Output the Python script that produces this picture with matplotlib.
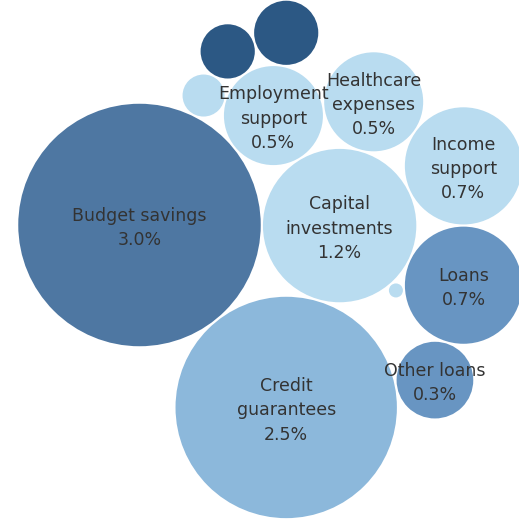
import numpy as np
import matplotlib
matplotlib.use("Agg")
import matplotlib.pyplot as plt
from matplotlib.patches import Circle

# Budget measures, share of GDP (%)
categories = [
    "Budget savings", "Credit guarantees", "Capital investments",
    "Employment support", "Healthcare expenses", "Income support",
    "Loans", "Other loans", "", "", "", "",
]
label_text = [
    "Budget savings", "Credit\nguarantees", "Capital\ninvestments",
    "Employment\nsupport", "Healthcare\nexpenses", "Income\nsupport",
    "Loans", "Other loans", "", "", "", "",
]
shares = [3.0, 2.5, 1.2, 0.5, 0.5, 0.7, 0.7, 0.3, 0.15, 0.21, 0.09, 0.01]
groups = ["budget", "credit", "light", "light", "light", "light",
          "loans", "loans", "dark", "dark", "light", "light"]

palette = {
    "budget": "#4e77a2",
    "credit": "#8cb8db",
    "light": "#b9dcf0",
    "loans": "#6895c2",
    "dark": "#2c5884",
}

# Packing: each bubble sits tangent to two already placed bubbles
# (anchor a, anchor b, side of the a->b line)
first_angle = np.deg2rad(51.2)
placement = [
    (0, 1, -1),   # Capital investments
    (0, 2, -1),   # Employment support
    (3, 2, -1),   # Healthcare expenses
    (4, 2, -1),   # Income support
    (2, 5, 1),    # Loans
    (6, 1, -1),   # Other loans
    (0, 3, -1),   # small light
    (10, 3, -1),  # small dark
    (8, 3, -1),   # larger dark
    (2, 6, 1),    # tiny
]
order = [2, 3, 4, 5, 6, 7, 10, 8, 9, 11]

SCALE = 70.0
GAP = 2.2
radii = SCALE * np.sqrt(np.array(shares))


def tangent(ca, ra, cb, rb, r, side, gap=GAP):
    da = ra + r + gap
    db = rb + r + gap
    d = cb - ca
    dist = np.hypot(*d)
    a = (da ** 2 - db ** 2 + dist ** 2) / (2 * dist)
    h = np.sqrt(max(da ** 2 - a ** 2, 0.0))
    u = d / dist
    perp = np.array([-u[1], u[0]])
    return ca + a * u + side * h * perp


n = len(shares)
centers = np.zeros((n, 2))
centers[1] = centers[0] + (radii[0] + radii[1] + GAP) * np.array(
    [np.cos(first_angle), np.sin(first_angle)])
for idx, (a, b, s) in zip(order, placement):
    centers[idx] = tangent(centers[a], radii[a], centers[b], radii[b],
                           radii[idx], s)

fig = plt.figure(figsize=(5.19, 5.20), dpi=100)
ax = fig.add_axes([0, 0, 1, 1])
ax.set_xlim(-139.5, 379.5)
ax.set_ylim(295, -225)
ax.axis("off")

for i in range(n):
    ax.add_patch(Circle(centers[i], radii[i], facecolor=palette[groups[i]],
                        edgecolor="none", antialiased=True))
    if label_text[i]:
        ax.text(centers[i][0], centers[i][1] + 3,
                f"{label_text[i]}\n{shares[i]:.1f}%",
                ha="center", va="center", fontsize=12.5, color="#333333",
                linespacing=1.45, family="DejaVu Sans")

fig.savefig("out.png", dpi=100)
